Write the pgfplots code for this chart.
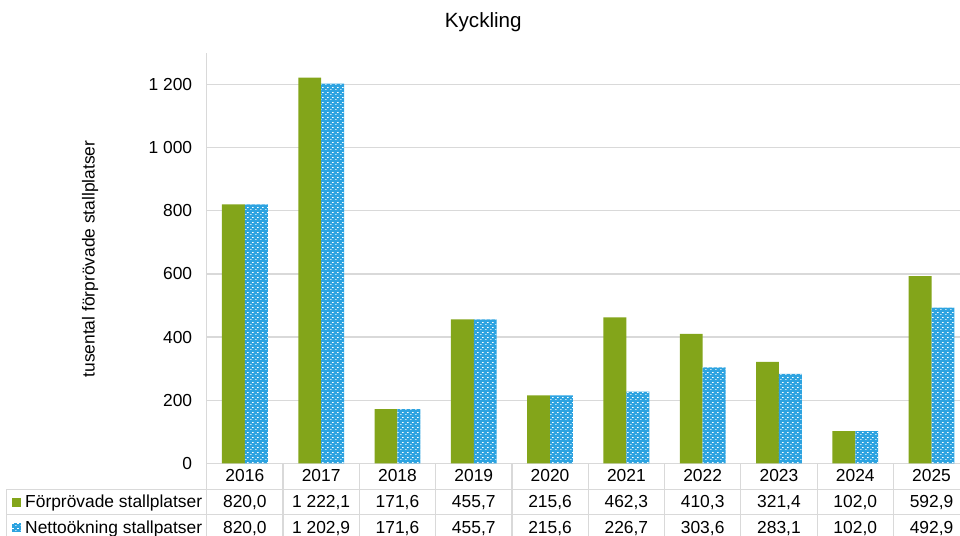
\documentclass[border=0pt]{standalone}
\usepackage{fontspec}
\setmainfont{Liberation Sans}
\usepackage{pgfplots}
\usepackage{pgfplotstable}
\pgfplotsset{compat=1.18}
\usetikzlibrary{patterns.meta}

\definecolor{gron}{HTML}{83A51A}
\definecolor{bla}{HTML}{2DA3E0}
\definecolor{rut}{HTML}{D9D9D9}

% small white dashes on blue, as in the Excel pattern
\tikzdeclarepattern{
  name=rutor, type=uncolored,
  bottom left={(0pt,0pt)}, top right={(5pt,5pt)},
  tile size={(5pt,5pt)},
  code={
    \pgfpathrectangle{\pgfpoint{0pt}{0pt}}{\pgfpoint{1.8pt}{0.8pt}}
    \pgfpathrectangle{\pgfpoint{2.5pt}{2.5pt}}{\pgfpoint{1.8pt}{0.8pt}}
    \pgfusepath{fill}
  }
}

\pgfplotstableread{
x ar forp netto
0 2016 820.0 820.0
1 2017 1222.1 1202.9
2 2018 171.6 171.6
3 2019 455.7 455.7
4 2020 215.6 215.6
5 2021 462.3 226.7
6 2022 410.3 303.6
7 2023 321.4 283.1
8 2024 102.0 102.0
9 2025 592.9 492.9
}\data

\newcommand{\tal}[1]{\pgfmathprintnumber[fixed,fixed zerofill,precision=1,use comma,1000 sep={\ }]{#1}}

\begin{document}
\begin{tikzpicture}[x=1pt,y=1pt,font=\fontsize{17.4}{21}\selectfont]
\useasboundingbox (0,0) rectangle (960,535);
\clip (0,0) rectangle (960,535);

\begin{axis}[
    at={(206.7pt,71.7pt)}, anchor=south west,
    scale only axis, width=763pt, height=410.3pt,
    xmin=-0.5, xmax=9.5, ymin=0, ymax=1300,
    ybar=0pt, bar width=22.9pt,
    axis x line*=bottom, axis y line*=left,
    axis line style={-, draw=rut, line width=1.2pt},
    major tick length=0pt,
    ytick={0,200,...,1200},
    ymajorgrids, grid style={rut, line width=1.2pt},
    /pgf/number format/assume math mode=true,
    /pgf/number format/1000 sep={\ },
    yticklabel style={xshift=-11pt},
    xtick={0,...,9},
    xticklabel={%
      \pgfplotstablegetelem{\ticknum}{ar}\of{\data}\pgfplotsretval\\
      \pgfplotstablegetelem{\ticknum}{forp}\of{\data}\tal{\pgfplotsretval}\\
      \pgfplotstablegetelem{\ticknum}{netto}\of{\data}\tal{\pgfplotsretval}},
    xticklabel style={anchor=north, inner sep=0pt, yshift=-5.4pt, align=center,
      font=\fontsize{17.4}{26}\selectfont},
    clip=false,
]
\addplot[fill=gron, draw=none] table[x=x, y=forp] {\data};
\addplot[fill=bla, draw=none, postaction={pattern=rutor, pattern color=white}]
    table[x=x, y=netto] {\data};
\end{axis}

% data table grid
\draw[rut, line width=1.2pt] (206.7,-5) -- (206.7,71.7);
\foreach \k in {1,...,10}
  \draw[rut, line width=1.2pt] ({206.7+\k*76.3},-5) -- ({206.7+\k*76.3},71.7);
\draw[rut, line width=1.2pt] (6.7,-5) -- (6.7,45.7);
\draw[rut, line width=1.2pt] (6.7,45.7) -- (975,45.7);
\draw[rut, line width=1.2pt] (6.7,20.7) -- (975,20.7);

% row headers with legend keys
\fill[gron] (11.7,28) rectangle ++(9,9);
\fill[bla] (11.7,3) rectangle ++(9,9);
\fill[pattern=rutor, pattern color=white] (11.7,3) rectangle ++(9,9);
\node[anchor=base west, inner sep=0pt] at (25,27.8) {Förprövade stallplatser};
\node[anchor=base west, inner sep=0pt] at (25,1.8) {Nettoökning stallpatser};

% title and y label
\node[font=\fontsize{20.6}{24}\selectfont] at (483.3,513) {Kyckling};
\node[rotate=90] at (90,276) {tusental förprövade stallplatser};
\end{tikzpicture}
\end{document}
